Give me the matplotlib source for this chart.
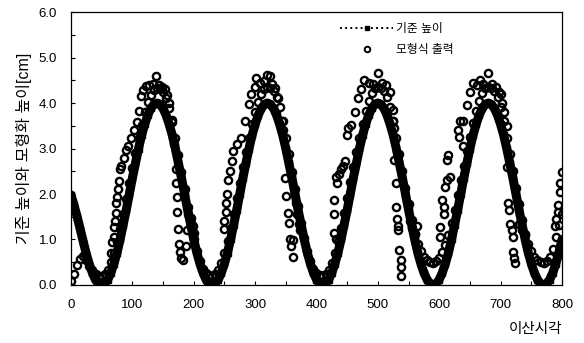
import numpy as np
import matplotlib
matplotlib.use('Agg')
import matplotlib.pyplot as plt
from matplotlib.lines import Line2D
from matplotlib.ticker import MultipleLocator, FormatStrFormatter

plt.rcParams['font.family'] = ['Liberation Sans', 'Noto Sans CJK KR']

# 이산시각 (5 단위로 읽은 값)
time_step = np.arange(0, 801, 5)

# 기준 높이 [cm]
ref_height = [
    1.98, 1.75, 1.50, 1.22, 0.95, 0.68, 0.45, 0.26, 0.11, 0.03, 0.00,
    0.03, 0.12, 0.27, 0.47, 0.71, 1.00, 1.32, 1.65, 2.00, 2.35, 2.68, 3.00, 3.29, 3.53, 3.73, 3.88, 3.97, 4.00,
    3.97, 3.88, 3.73, 3.53, 3.29, 3.00, 2.68, 2.35, 2.00, 1.65, 1.32, 1.00, 0.71, 0.47, 0.27, 0.12, 0.03, 0.00,
    0.03, 0.12, 0.27, 0.47, 0.71, 1.00, 1.32, 1.65, 2.00, 2.35, 2.68, 3.00, 3.29, 3.53, 3.73, 3.88, 3.97, 4.00,
    3.97, 3.88, 3.73, 3.53, 3.29, 3.00, 2.68, 2.35, 2.00, 1.65, 1.32, 1.00, 0.71, 0.47, 0.27, 0.12, 0.03, 0.00,
    0.03, 0.12, 0.27, 0.47, 0.71, 1.00, 1.32, 1.65, 2.00, 2.35, 2.68, 3.00, 3.29, 3.53, 3.73, 3.88, 3.97, 4.00,
    3.97, 3.88, 3.73, 3.53, 3.29, 3.00, 2.68, 2.35, 2.00, 1.65, 1.32, 1.00, 0.71, 0.47, 0.27, 0.12, 0.03, 0.00,
    0.03, 0.12, 0.27, 0.47, 0.71, 1.00, 1.32, 1.65, 2.00, 2.35, 2.68, 3.00, 3.29, 3.53, 3.73, 3.88, 3.97, 4.00,
    3.97, 3.88, 3.73, 3.53, 3.29, 3.00, 2.68, 2.35, 2.00, 1.65, 1.32, 1.00, 0.71, 0.47, 0.27, 0.12, 0.03, 0.00,
    0.03, 0.12, 0.27, 0.47, 0.71, 1.00,
]

# 모형식 출력 [cm] (같은 시각)
model_out = [
    0.08, 0.25, 0.45, 0.58, 0.64, 0.55, 0.42, 0.32, 0.24, 0.20, 0.20,
    0.24, 0.34, 0.50, 0.70, 0.95, 1.24, 1.56, 1.90, 2.24, 2.58, 2.90, 3.22, 3.52, 3.80, 4.02, 4.18, 4.28, 4.32,
    4.30, 4.24, 4.12, 3.90, 3.58, 3.22, 2.86, 2.48, 2.10, 1.72, 1.36, 1.02, 0.74, 0.52, 0.36, 0.26, 0.21, 0.20,
    0.24, 0.33, 0.49, 0.70, 0.96, 1.25, 1.57, 1.91, 2.25, 2.59, 2.92, 3.23, 3.53, 3.81, 4.03, 4.20, 4.30, 4.35,
    4.33, 4.26, 4.13, 3.92, 3.60, 3.24, 2.87, 2.49, 2.11, 1.73, 1.37, 1.03, 0.75, 0.52, 0.36, 0.26, 0.21, 0.20,
    0.24, 0.33, 0.49, 0.71, 0.97, 1.26, 1.58, 1.92, 2.26, 2.60, 2.92, 3.24, 3.54, 3.82, 4.05, 4.22, 4.32, 4.36,
    4.34, 4.27, 4.14, 3.92, 3.60, 3.24, 2.88, 2.50, 2.13, 1.77, 1.43, 1.12, 0.90, 0.74, 0.62, 0.54, 0.50, 0.49,
    0.52, 0.60, 0.72, 0.88, 1.10, 1.36, 1.65, 1.97, 2.30, 2.62, 2.94, 3.25, 3.55, 3.83, 4.05, 4.22, 4.32, 4.36,
    4.34, 4.27, 4.14, 3.92, 3.60, 3.24, 2.88, 2.50, 2.13, 1.77, 1.43, 1.12, 0.90, 0.74, 0.62, 0.54, 0.50, 0.49,
    0.52, 0.62, 0.80, 1.05, 1.32, 1.55,
]

# 모형식 출력 중 띠에서 벗어난 점들
extra_time = [
    65, 67, 70, 70, 72, 73, 74, 75, 77, 78, 80, 82, 86, 90, 93, 98, 103, 107, 111, 114, 118, 122, 127, 133, 138, 143, 148, 153, 157,
    160, 164, 168, 171, 171, 172, 173, 174, 176, 178, 179, 182, 188, 189, 190, 196, 198, 200,
    249, 250, 252, 253, 254, 255, 259, 262, 264, 270, 277, 284, 290, 294, 299, 302, 308, 315, 320, 324, 328, 333, 337,
    343, 345, 348, 350, 353, 355, 357, 358, 361, 362, 367, 369, 371, 373,
    429, 429, 429, 432, 432, 434, 437, 440, 443, 446, 449, 451, 456, 462, 468, 473, 478, 485, 492, 500, 506, 514, 519,
    524, 526, 525, 527, 530, 530, 531, 532, 533, 535, 537, 538, 538, 552, 556, 560, 563,
    601, 601, 604, 607, 607, 609, 612, 617, 612, 614, 630, 632, 638, 634, 639, 645, 650, 655, 661, 666, 672, 679, 686, 693, 698, 701,
    703, 706, 710, 711, 712, 713, 715, 718, 720, 720, 722, 723, 730, 735, 740,
    789, 791, 794, 794, 797, 797, 800,
]
extra_out = [
    0.70, 0.95, 1.05, 1.27, 1.40, 1.58, 1.80, 1.93, 2.10, 2.28, 2.55, 2.62, 2.80, 2.97, 3.05, 3.22, 3.40, 3.58, 3.82, 4.15, 4.28, 4.38, 4.40, 4.42, 4.60, 4.40, 4.36, 4.30, 4.18,
    4.00, 3.62, 3.10, 2.55, 2.24, 1.93, 1.60, 1.22, 0.90, 0.72, 0.60, 0.55, 0.85, 1.20, 1.55, 1.48, 1.30, 1.15,
    1.22, 1.40, 1.60, 1.80, 2.00, 2.30, 2.50, 2.72, 2.95, 3.10, 3.22, 3.60, 3.98, 4.20, 4.35, 4.55, 4.45, 4.48, 4.62, 4.60, 4.42, 4.32, 4.10,
    3.60, 3.40, 2.35, 1.95, 1.58, 1.36, 1.00, 0.85, 0.62, 0.98, 1.80, 1.55, 1.35, 1.20,
    1.15, 1.57, 1.87, 1.00, 2.37, 2.25, 2.45, 2.55, 2.62, 2.72, 3.30, 3.45, 3.52, 3.80, 4.10, 4.30, 4.50, 4.45, 4.42, 4.65, 4.45, 4.40, 4.25,
    3.85, 3.45, 3.60, 2.75, 2.24, 1.72, 1.45, 1.30, 1.20, 0.77, 0.55, 0.40, 0.20, 1.40, 1.25, 1.12, 1.30,
    1.05, 1.27, 1.87, 1.72, 1.55, 2.15, 2.30, 2.37, 2.75, 2.85, 3.40, 3.25, 3.05, 3.60, 3.60, 3.95, 4.25, 4.45, 4.40, 4.50, 4.42, 4.65, 4.42, 4.35, 4.25, 4.20,
    4.00, 3.80, 3.50, 2.60, 1.80, 1.65, 1.35, 1.20, 1.05, 0.72, 0.60, 0.48, 1.35, 1.20, 1.10,
    1.30, 1.45, 1.60, 1.75, 2.05, 2.25, 2.48,
]

model_time = np.concatenate([time_step, extra_time])
model_all = np.concatenate([model_out, extra_out])

fig = plt.figure(figsize=(5.84, 3.43), dpi=100)
ax = fig.add_axes([0.1216, 0.1691, 0.8407, 0.7959])

# 모형식 출력: 속이 빈 원
ax.plot(model_time, model_all, ls='none', marker='o', ms=5.2, mfc='none',
        mec='black', mew=1.7, zorder=2)
# 기준 높이: 굵은 띠처럼 보이는 점선+사각형
ax.plot(time_step, ref_height, color='black', lw=6.5, marker='s', ms=4,
        zorder=3, solid_capstyle='round', solid_joinstyle='round')

ax.set_xlim(0, 800)
ax.set_ylim(0, 6.0)
ax.xaxis.set_major_locator(MultipleLocator(100))
ax.xaxis.set_minor_locator(MultipleLocator(50))
ax.yaxis.set_major_locator(MultipleLocator(1.0))
ax.yaxis.set_minor_locator(MultipleLocator(0.5))
ax.yaxis.set_major_formatter(FormatStrFormatter('%.1f'))
ax.tick_params(which='both', direction='in', length=3, width=0.8,
               labelsize=9.5, pad=10)
for s in ax.spines.values():
    s.set_linewidth(0.9)

ax.set_ylabel('기준 높이와 모형화 높이[cm]', fontsize=11.5, labelpad=5)
ax.set_xlabel('이산시각', fontsize=10.5, loc='right', labelpad=8)

handles = [
    Line2D([], [], color='black', ls=':', lw=1.4, marker='s', ms=3),
    Line2D([], [], ls='none', marker='o', ms=4, mfc='none', mec='black', mew=1.4),
]
ax.legend(handles, ['기준 높이', '모형식 출력'], loc='upper left',
          bbox_to_anchor=(0.548, 0.958), frameon=False, fontsize=8.5,
          handlelength=4.5, handletextpad=0.2, labelspacing=0.75,
          borderpad=0, borderaxespad=0)

fig.savefig('out.png', dpi=100)
